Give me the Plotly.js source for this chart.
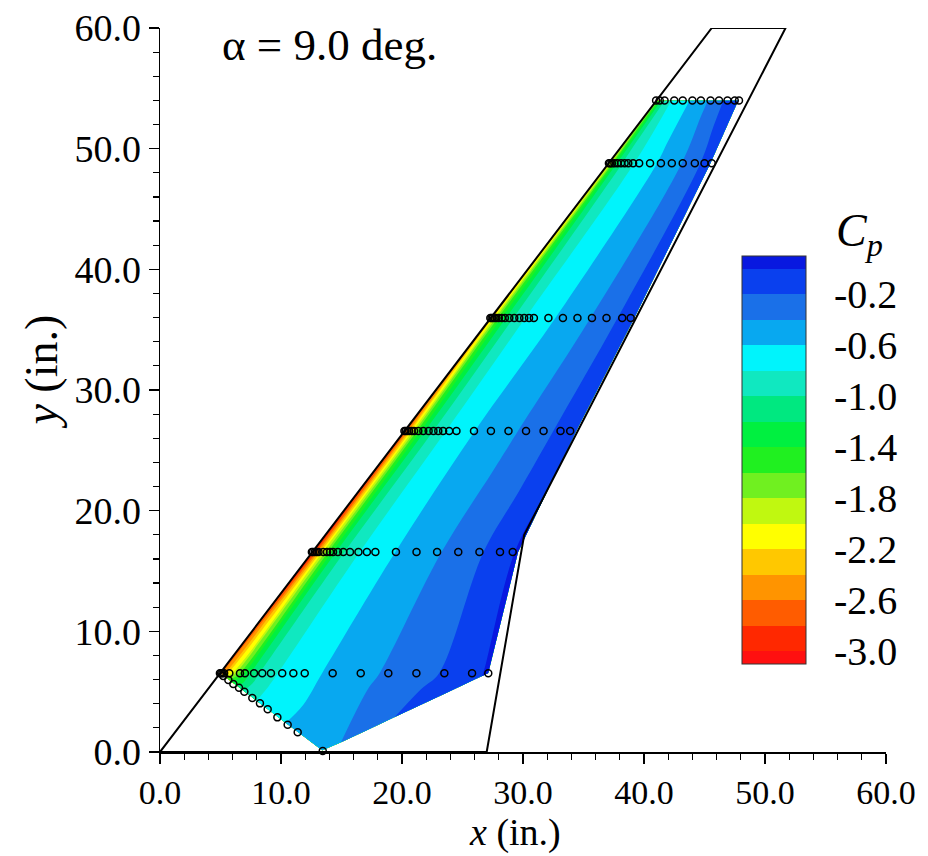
<!DOCTYPE html>
<html><head><meta charset="utf-8">
<script src="https://cdn.plot.ly/plotly-3.0.1.min.js"></script>
<style>html,body{margin:0;padding:0;background:#fff}#chart{width:928px;height:856px}</style>
</head><body><div id="chart"></div>
<script>
// Wing planform outline (in.)
const wingX = [0, 45.6, 51.7, 30.1, 27.0, 0];
const wingY = [0, 60, 60, 18, 0, 0];

// Pressure-tap rows: span station, leading edge x, aft edge of contoured region
const rowY     = [6.52, 16.57, 26.6, 35.96, 48.8, 54.0];
const rowLE    = [4.98, 12.59, 20.2, 27.33, 37.09, 41.04];
const rowRight = [27.13, 29.6, 34.4, 39.2, 45.5, 47.8];
// lower boundary of the contoured region
const lowerEdgeX = [4.98, 13.45, 27.13];
const lowerEdgeY = [6.52, 0.08, 6.52];

// chordwise fraction of each contoured row
const chordFrac = [0, 0.01, 0.025, 0.05, 0.08, 0.12, 0.18, 0.25, 0.31, 0.38, 0.45, 0.55, 0.65, 0.75, 0.85, 0.95, 1.0];
// Cp along the lower boundary and along each row
const cpLower = [-2.65, -2.1, -1.6, -1.2, -1.03, -0.83, -0.71, -0.59, -0.52, -0.47, -0.40, -0.30, -0.20, -0.14, -0.08, -0.02, 0.02];
const cpRow1  = [-2.65, -2.5, -2.25, -1.9, -1.5, -1.12, -0.85, -0.75, -0.68, -0.60, -0.53, -0.44, -0.35, -0.26, -0.17, -0.05, 0.03];
const cpRow2  = [-3.05, -2.85, -2.5, -2.0, -1.55, -1.15, -0.9, -0.76, -0.69, -0.62, -0.56, -0.47, -0.38, -0.29, -0.18, -0.06, 0.03];
const cpRow3  = [-2.85, -2.7, -2.4, -1.95, -1.5, -1.2, -0.95, -0.78, -0.70, -0.63, -0.56, -0.48, -0.41, -0.32, -0.22, -0.10, -0.03];
const cpRow4  = [-2.4, -2.25, -1.95, -1.6, -1.35, -1.12, -0.93, -0.78, -0.72, -0.66, -0.60, -0.52, -0.44, -0.35, -0.24, -0.12, -0.06];
const cpRow5  = [-2.1, -2.0, -1.8, -1.45, -1.2, -1.03, -0.9, -0.8, -0.74, -0.67, -0.62, -0.54, -0.46, -0.37, -0.26, -0.14, -0.08];
const cpRow6  = [-1.85, -1.7, -1.5, -1.25, -1.05, -0.95, -0.8, -0.72, -0.67, -0.62, -0.56, -0.47, -0.38, -0.28, -0.16, -0.05, -0.01];

// Tap locations (x, in.) for each row, plus the root diagonal row
const tapRow1 = [4.95, 5.05, 5.15, 5.3, 5.73, 6.61, 7.02, 7.77, 8.45, 9.17, 10.1, 11.02, 11.96, 14.27, 16.59, 18.87, 21.19, 23.5, 25.79, 27.13];
const tapRow2 = [12.55, 12.65, 12.8, 12.95, 13.1, 13.5, 13.8, 14.05, 14.3, 14.7, 15.15, 15.7, 16.4, 17.1, 17.8, 19.5, 21.2, 22.9, 24.65, 26.4, 28.1, 29.15];
const tapRow3 = [20.2, 20.3, 20.45, 20.6, 20.8, 21.0, 21.35, 21.76, 22.2, 22.6, 23.0, 23.4, 23.9, 24.5, 25.95, 27.35, 28.8, 30.25, 31.7, 33.1, 33.9];
const tapRow4 = [27.3, 27.4, 27.5, 27.65, 27.8, 28.0, 28.25, 28.5, 28.87, 29.28, 29.7, 30.1, 30.5, 30.9, 32.1, 33.3, 34.5, 35.7, 36.9, 38.2, 38.9];
const tapRow5 = [37.1, 37.2, 37.35, 37.55, 37.8, 38.1, 38.4, 38.7, 39.1, 39.6, 40.5, 41.4, 42.3, 43.2, 44.2, 45.0, 45.6];
const tapRow6 = [41.0, 41.3, 41.7, 42.5, 43.2, 44.0, 44.7, 45.5, 46.2, 46.9, 47.5, 47.85];
const tapDiagX = [5.23, 5.65, 6.06, 6.53, 6.97, 7.63, 8.26, 8.9, 9.7, 10.55, 11.38, 13.45];
const tapDiagY = [6.3, 5.97, 5.63, 5.33, 5.0, 4.47, 4.03, 3.54, 2.87, 2.26, 1.63, 0.08];

// Colour levels (low -> high)
const levelColors = ['#ff1010','#ff2800','#ff5c00','#ff9400','#ffc800','#ffff00','#c0f810','#70f020',
  '#20f020','#00f040','#00e880','#10e8c0','#00f4fc','#08a8f0','#1a70e8','#0a40ee','#0818e0'];
const cbTicks = [-0.2, -0.6, -1.0, -1.4, -1.8, -2.2, -2.6, -3.0];

// ---- build carpet grid ----
function interp(xs, ys, x) {
  for (let i = 0; i < xs.length - 1; i++) {
    if (x >= xs[i] && x <= xs[i+1]) {
      const t = (x - xs[i]) / (xs[i+1] - xs[i]);
      return ys[i] + t * (ys[i+1] - ys[i]);
    }
  }
  return x < xs[0] ? ys[0] : ys[ys.length-1];
}
const X = [], Y = [];
X.push(chordFrac.map(a => rowLE[0] + a * (rowRight[0] - rowLE[0])));
Y.push(X[0].map(x => interp(lowerEdgeX, lowerEdgeY, x)));
rowY.forEach((yy, r) => {
  X.push(chordFrac.map(a => rowLE[r] + a * (rowRight[r] - rowLE[r])));
  Y.push(chordFrac.map(() => yy));
});
const Z = [cpLower, cpRow1, cpRow2, cpRow3, cpRow4, cpRow5, cpRow6];
const bIdx = Z.map((_, i) => i);

const colorscale = levelColors.map((c, k) => [k / (levelColors.length - 1), c]);

const noAx = {showgrid:false, showline:false, showticklabels:'none', startline:false, endline:false,
  minorgridcount:0, smoothing:0, ticks:'', gridwidth:0};

const tapsX = [].concat(tapRow1, tapRow2, tapRow3, tapRow4, tapRow5, tapRow6, tapDiagX);
const tapsY = [].concat(
  tapRow1.map(() => rowY[0]), tapRow2.map(() => rowY[1]), tapRow3.map(() => rowY[2]),
  tapRow4.map(() => rowY[3]), tapRow5.map(() => rowY[4]), tapRow6.map(() => rowY[5]), tapDiagY);

const font = 'Liberation Serif, Times New Roman, serif';

const data = [
  {type:'carpet', carpet:'wing', a: chordFrac, b: bIdx, x: X, y: Y, aaxis: noAx, baxis: noAx, hoverinfo:'skip'},
  {type:'contourcarpet', carpet:'wing', a: chordFrac, b: bIdx, z: Z, autocontour:false,
   contours:{start:-3.0, end:0.0, size:0.2, coloring:'fill', showlines:false},
   line:{width:0}, colorscale: colorscale,
   colorbar:{x:0.8017, xanchor:'left', xref:'paper', y:0.685, yanchor:'top', yref:'paper',
     len:408, lenmode:'pixels', thickness:64, thicknessmode:'pixels', xpad:0, ypad:0,
     outlinewidth:1, outlinecolor:'#333',
     tickmode:'array', tickvals: cbTicks, ticktext: cbTicks.map(v => v.toFixed(1)),
     ticks:'outside', ticklen:20, tickcolor:'rgba(0,0,0,0)',
     tickfont:{family:font, size:40, color:'#000'}}},
  {type:'scatter', mode:'lines', x: wingX, y: wingY, line:{color:'#000', width:2}, hoverinfo:'skip', cliponaxis:false},
  {type:'scatter', mode:'markers', x: tapsX, y: tapsY, cliponaxis:false,
   marker:{symbol:'circle-open', size:7, color:'#000', line:{width:1.5, color:'#000'}}}
];

const axBase = {
  range:[0,60], dtick:10, tick0:0, tickformat:'.1f', ticks:'outside', ticklen:10, tickwidth:1.5,
  tickcolor:'#000', showline:true, linecolor:'#000', linewidth:1.5, showgrid:false, zeroline:false,
  minor:{dtick:2, ticks:'outside', ticklen:6, tickwidth:1.2, tickcolor:'#000', showgrid:false},
  tickfont:{family:font, size:34, color:'#000'}
};

const layout = {
  width:928, height:856,
  margin:{l:160, r:42, t:28, b:104},
  paper_bgcolor:'#fff', plot_bgcolor:'#fff',
  showlegend:false,
  xaxis: Object.assign({}, axBase, {tickfont:{family:font, size:34, color:'#000'}}),
  yaxis: Object.assign({}, axBase, {tickfont:{family:font, size:38, color:'#000'}}),
  annotations:[
    {xref:'paper', yref:'paper', x:0.489, y:-0.111, xanchor:'center', yanchor:'middle', showarrow:false,
     text:'<i>x</i> (in.)', font:{family:font, size:38, color:'#000'}},
    {xref:'paper', yref:'paper', x:-0.163, y:0.525, xanchor:'center', yanchor:'middle', showarrow:false,
     textangle:-90, text:'<i>y</i> (in.)', font:{family:font, size:46, color:'#000'}},
    {xref:'paper', yref:'paper', x:0.234, y:0.976, xanchor:'center', yanchor:'middle', showarrow:false,
     text:'α = 9.0 deg.', font:{family:font, size:45, color:'#000'}},
    {xref:'paper', yref:'paper', x:0.964, y:0.716, xanchor:'center', yanchor:'middle', showarrow:false,
     text:'<i>C</i><sub><i>p</i></sub>', font:{family:font, size:46, color:'#000'}}
  ]
};

Plotly.newPlot('chart', data, layout, {displayModeBar:false, staticPlot:true});
</script>
</body></html>
